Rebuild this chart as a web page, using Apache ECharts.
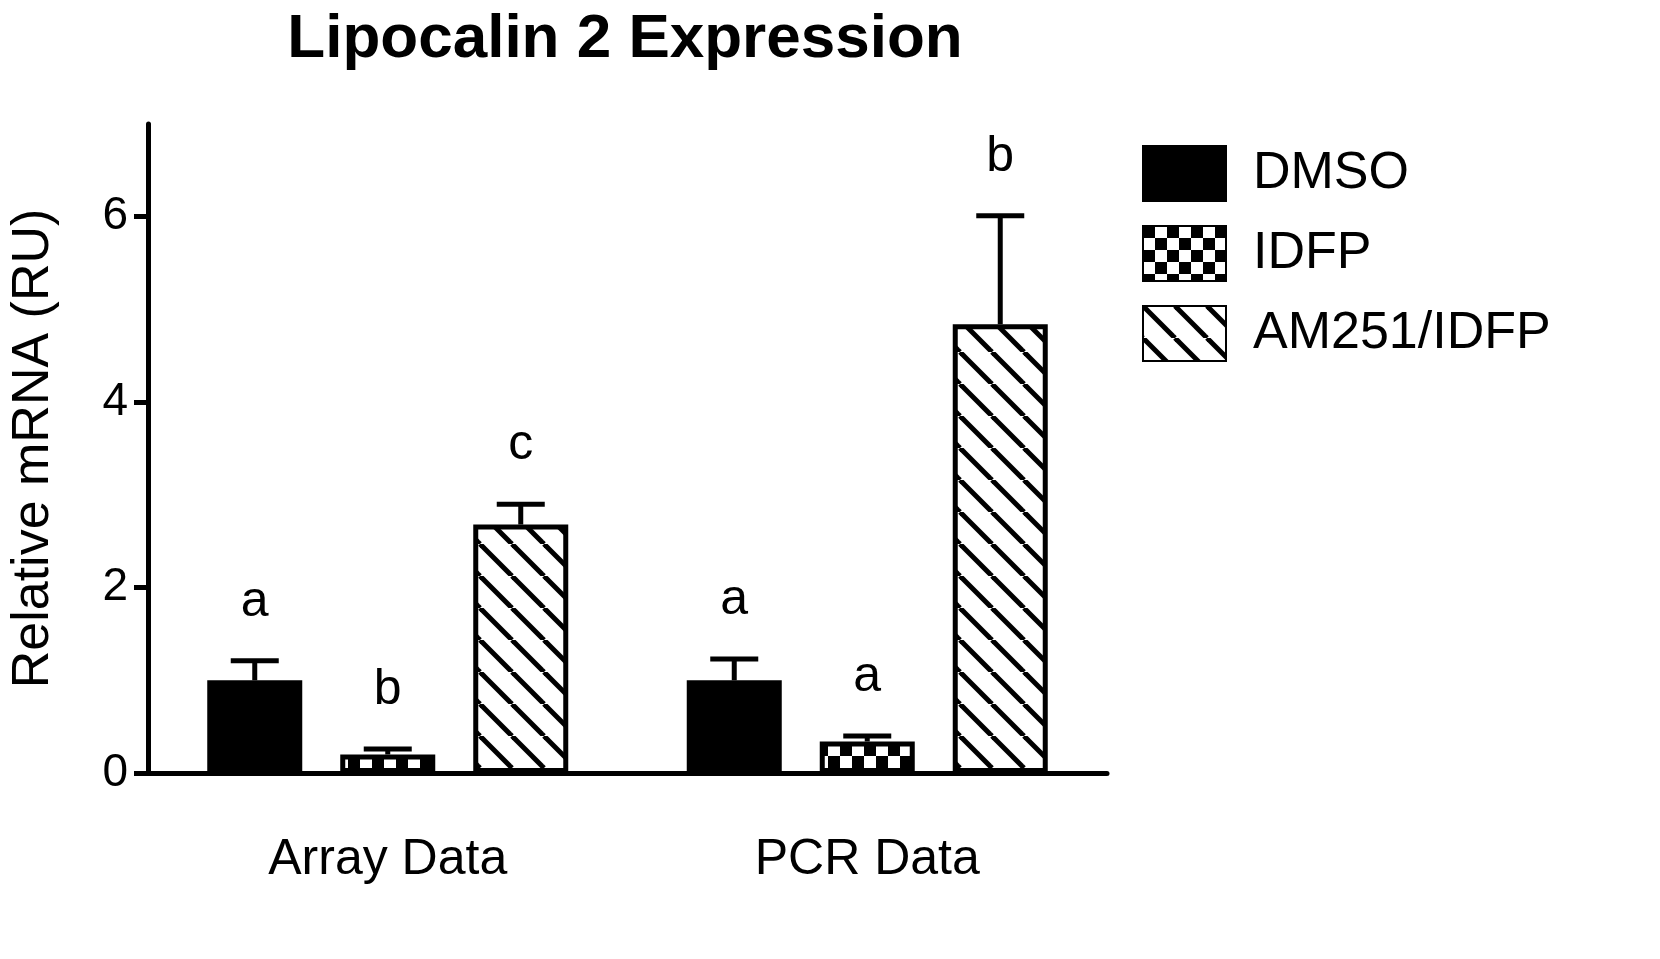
<!DOCTYPE html>
<html><head><meta charset="utf-8">
<script src="https://cdn.jsdelivr.net/npm/echarts@6/dist/echarts.min.js"></script>
<style>html,body{margin:0;background:#fff}#c{width:1660px;height:959px}</style>
</head><body><div id="c"></div>
<script>
const categories = ['Array Data', 'PCR Data'];
const seriesNames = ['DMSO', 'IDFP', 'AM251/IDFP'];
const dmso = [1.0, 1.0];
const idfp = [0.2, 0.34];
const am251 = [2.68, 4.84];
const dmsoErr = [1.21, 1.23];
const idfpErr = [0.26, 0.4];
const am251Err = [2.9, 6.01];
const dmsoLetters = ['a', 'a'];
const idfpLetters = ['b', 'a'];
const am251Letters = ['c', 'b'];
const yTicks = [0, 2, 4, 6];

function checker(){const s=12;const c=document.createElement('canvas');c.width=2*s;c.height=2*s;const g=c.getContext('2d');
g.fillStyle='#fff';g.fillRect(0,0,2*s,2*s);g.fillStyle='#000';g.fillRect(0,0,s,s);g.fillRect(s,s,s,s);return c;}
function diag(){const s=32;const c=document.createElement('canvas');c.width=s;c.height=s;const g=c.getContext('2d');
g.fillStyle='#fff';g.fillRect(0,0,s,s);g.strokeStyle='#000';g.lineWidth=5;
for(const o of [-s,0,s]){g.beginPath();g.moveTo(o,0);g.lineTo(o+s,s);g.stroke();}return c;}

const fills=['#000',{image:checker(),repeat:'repeat'},{image:diag(),repeat:'repeat'}];
const vals=[dmso,idfp,am251], errs=[dmsoErr,idfpErr,am251Err], lets=[dmsoLetters,idfpLetters,am251Letters];
const BW=95, GAP=38;
const FONT='Liberation Sans, Arial';
const series=[];
vals.forEach((v,i)=>{
  series.push({name:seriesNames[i],type:'bar',data:v,barWidth:BW,barGap:(GAP/BW*100)+'%',
    itemStyle:{color:fills[i],borderColor:'#000',borderWidth:5}});
});
vals.forEach((v,i)=>{
  series.push({type:'custom',silent:true,z:1,
    data:v.map((y,k)=>[k,y,errs[i][k]]),
    renderItem:(p,api)=>{
      const k=api.value(0);const off=(BW+GAP)*(i-1);
      const b=api.coord([k,api.value(1)]);const t=api.coord([k,api.value(2)]);
      const x=b[0]+off;
      return {type:'group',children:[
        {type:'line',shape:{x1:x,y1:b[1],x2:x,y2:t[1]},style:{stroke:'#000',lineWidth:5}},
        {type:'line',shape:{x1:x-24,y1:t[1],x2:x+24,y2:t[1]},style:{stroke:'#000',lineWidth:5}},
        {type:'text',x:x,y:t[1]-34,style:{text:lets[i][k],fill:'#000',font:'50px '+FONT,align:'center',verticalAlign:'bottom'}}
      ]};
    }});
});
const chart=echarts.init(document.getElementById('c'));
chart.setOption({
  animation:false,
  title:{text:'Lipocalin 2 Expression',left:620,textAlign:'center',top:4,
    textStyle:{fontSize:62,fontWeight:'bold',color:'#000',fontFamily:FONT}},
  legend:{data:seriesNames,orient:'vertical',left:1137,top:140,itemWidth:83,itemHeight:55,itemGap:23,icon:'rect',
    textStyle:{fontSize:52,color:'#000',fontFamily:FONT,padding:[0,0,0,22]}},
  grid:{left:125,right:553,top:124,bottom:186},
  xAxis:{type:'category',data:categories,
    axisLine:{lineStyle:{color:'#000',width:5}},
    axisTick:{alignWithLabel:true,length:25,lineStyle:{width:5,color:'#000'}},
    axisLabel:{fontSize:50,color:'#000',margin:62,fontFamily:FONT}},
  yAxis:{type:'value',min:0,max:7,
    name:'Relative mRNA (RU)',nameLocation:'middle',nameGap:88,
    nameTextStyle:{fontSize:52,color:'#000',fontFamily:FONT},
    splitLine:{show:false},
    axisLine:{show:true,lineStyle:{color:'#000',width:5}},
    axisTick:{show:true,length:14,customValues:yTicks,lineStyle:{width:5,color:'#000'}},
    axisLabel:{fontSize:46,color:'#000',margin:20,customValues:yTicks,fontFamily:FONT}},
  series
});
</script></body></html>
